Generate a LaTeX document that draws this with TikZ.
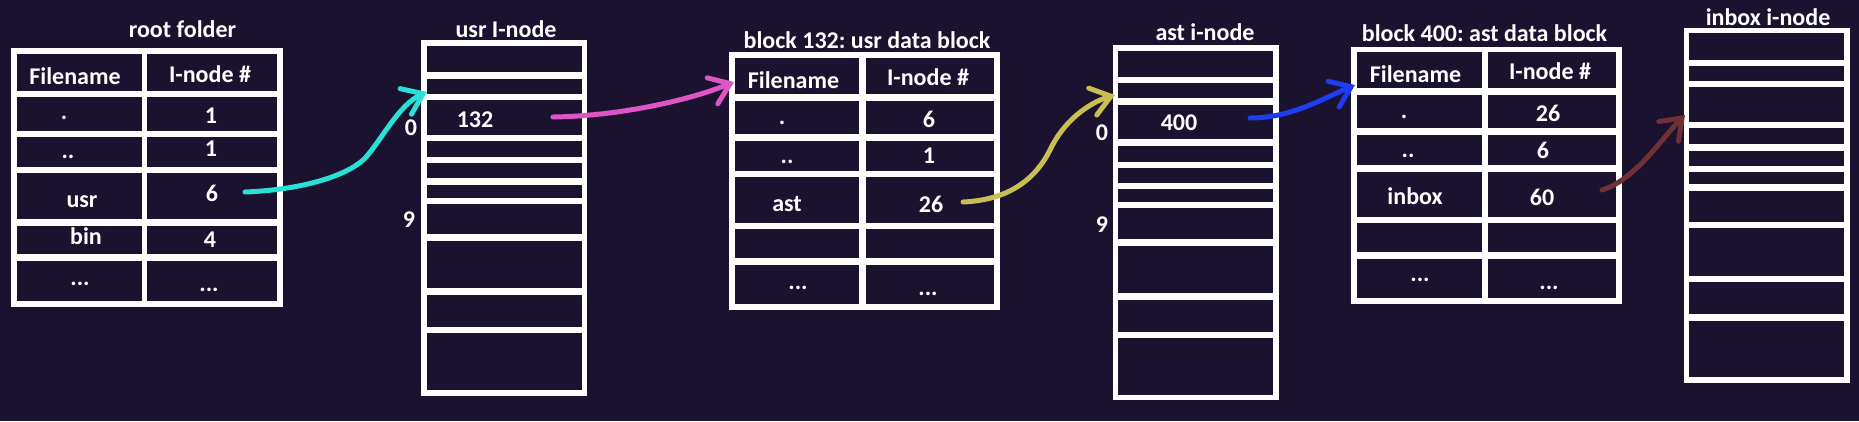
\documentclass[tikz,border=0pt]{standalone}
\usepackage{fontspec}
\setmainfont{Carlito}
\usetikzlibrary{arrows.meta}
\definecolor{bg}{HTML}{1B1230}
\definecolor{cyanA}{HTML}{28E0D6}
\definecolor{pinkA}{HTML}{E055C6}
\definecolor{oliveA}{HTML}{C8BE52}
\definecolor{blueA}{HTML}{1E3CF0}
\definecolor{brownA}{HTML}{6E3236}
\newcommand\boxnode[6]{\node[#2, minimum width={(#5)-(#3)}, minimum height={(#6)-(#4)}] (#1) at ({((#3)+(#5))/2},{((#4)+(#6))/2}) {};}
\frenchspacing
\begin{document}
\begin{tikzpicture}[x=1pt,y=-1pt,
  frame/.style={fill=white, draw=none, inner sep=0pt, outer sep=0pt, rectangle},
  cellbox/.style={fill=bg, draw=none, inner sep=0pt, outer sep=0pt, rectangle},
  lbl/.style={text=white, font=\fontsize{24}{24}\selectfont\bfseries\frenchspacing, inner sep=0pt, anchor=base},
  conn/.style={line width=5pt, line cap=round, line join=round, -{Straight Barb[length=19pt,width=28pt,line cap=round]}},
]
\fill[bg] (0,0) rectangle (1859,421);
\useasboundingbox (0,0) rectangle (1859,421);

% ---------- root folder ----------
\node[lbl] (rt-title) at (182.5,37) {root folder};
\boxnode{rt}{frame}{11}{48}{283}{307}
\foreach \a/\b [count=\i from 0] in {54/91,97/131,137/167,173/219,226/254,261/301}{
  \boxnode{rt-l\i}{cellbox}{17}{\a}{142}{\b}
  \boxnode{rt-r\i}{cellbox}{147}{\a}{277}{\b}
}
\node[lbl] (rt-fn) at (75,84) {Filename};
\node[lbl] (rt-in) at (210,82) {I-node \#};
\node[lbl] (rt-n1) at (64,119) {.};
\node[lbl] (rt-v1) at (211,123) {1};
\node[lbl] (rt-n2) at (68,158) {..};
\node[lbl] (rt-v2) at (211,156) {1};
\node[lbl] (rt-n3) at (82,207) {usr};
\node[lbl] (rt-v3) at (212,201) {6};
\node[lbl] (rt-n4) at (86,244) {bin};
\node[lbl] (rt-v4) at (210,247) {4};
\node[lbl] (rt-n5) at (80,285) {...};
\node[lbl] (rt-v5) at (209,291) {...};

% ---------- usr I-node ----------
\node[lbl] (ui-title) at (506,37) {usr I-node};
\boxnode{ui}{frame}{421}{40}{587}{396}
\foreach \a/\b [count=\i] in {46/72,79/94,100/135,141/157,163/178,185/198,204/234,241/288,295/327,333/390}{
  \boxnode{ui-\i}{cellbox}{427}{\a}{582}{\b}
}
\node[lbl] (ui-ptr) at (475,127) {132};
\node[lbl] (ui-0) at (411,135) {0};
\node[lbl] (ui-9) at (409,227) {9};

% ---------- block 132 ----------
\node[lbl] (b1-title) at (867,48) {block 132: usr data block};
\boxnode{b1}{frame}{729}{52}{1000}{310}
\foreach \a/\b [count=\i from 0] in {58/94,101/134,141/171,177/223,229/258,265/304}{
  \boxnode{b1-l\i}{cellbox}{735}{\a}{859}{\b}
  \boxnode{b1-r\i}{cellbox}{866}{\a}{994}{\b}
}
\node[lbl] (b1-fn) at (793.5,88) {Filename};
\node[lbl] (b1-in) at (928,85) {I-node \#};
\node[lbl] (b1-n1) at (782,124) {.};
\node[lbl] (b1-v1) at (929,127) {6};
\node[lbl] (b1-n2) at (787,163) {..};
\node[lbl] (b1-v2) at (929,163) {1};
\node[lbl] (b1-n3) at (787,211) {ast};
\node[lbl] (b1-v3) at (931,212) {26};
\node[lbl] (b1-n5) at (798,289) {...};
\node[lbl] (b1-v5) at (928,295) {...};

% ---------- ast i-node ----------
\node[lbl] (ai-title) at (1205,40) {ast i-node};
\boxnode{ai}{frame}{1113}{45}{1279}{400}
\foreach \a/\b [count=\i] in {51/77,83/98,105/139,146/162,168/183,189/202,208/239,246/293,300/332,338/395}{
  \boxnode{ai-\i}{cellbox}{1118}{\a}{1273}{\b}
}
\node[lbl] (ai-ptr) at (1179,130) {400};
\node[lbl] (ai-0) at (1102,140) {0};
\node[lbl] (ai-9) at (1102,232) {9};

% ---------- block 400 ----------
\node[lbl] (b4-title) at (1484.5,41) {block 400: ast data block};
\boxnode{b4}{frame}{1351}{47}{1622}{304}
\foreach \a/\b [count=\i from 0] in {52/88,95/128,135/165,172/217,223/252,259/298}{
  \boxnode{b4-l\i}{cellbox}{1357}{\a}{1482}{\b}
  \boxnode{b4-r\i}{cellbox}{1488}{\a}{1616}{\b}
}
\node[lbl] (b4-fn) at (1415.5,82) {Filename};
\node[lbl] (b4-in) at (1550,79) {I-node \#};
\node[lbl] (b4-n1) at (1404,118) {.};
\node[lbl] (b4-v1) at (1548,121) {26};
\node[lbl] (b4-n2) at (1408,157) {..};
\node[lbl] (b4-v2) at (1543,158) {6};
\node[lbl] (b4-n3) at (1415,204) {inbox};
\node[lbl] (b4-v3) at (1542,205) {60};
\node[lbl] (b4-n5) at (1420,281) {...};
\node[lbl] (b4-v5) at (1549,289) {...};

% ---------- inbox i-node ----------
\node[lbl] (ii-title) at (1768,25) {inbox i-node};
\boxnode{ii}{frame}{1684}{28}{1850}{383}
\foreach \a/\b [count=\i] in {33/60,66/81,87/122,128/144,151/166,172/184,191/222,228/276,282/314,321/377}{
  \boxnode{ii-\i}{cellbox}{1689}{\a}{1844}{\b}
}

% ---------- connectors ----------
\coordinate (c1s) at (245,192);
\coordinate (c1t) at (427,92);
\draw[conn, cyanA] (c1s) .. controls (300,190) and (350,176) .. (367,156) .. controls (383,137) and (400,104) .. (c1t);
\coordinate (c2s) at (553,117);
\coordinate (c2t) at (734,82);
\draw[conn, pinkA] (c2s) .. controls (620,116) and (690,100) .. (c2t);
\coordinate (c3s) at (963,202);
\coordinate (c3t) at (1115,95);
\draw[conn, oliveA] (c3s) .. controls (1010,200) and (1036,178) .. (1050,150) .. controls (1063,122) and (1088,103) .. (c3t);
\coordinate (c4s) at (1250,118);
\coordinate (c4t) at (1355,85);
\draw[conn, blueA] (c4s) .. controls (1290,118) and (1320,100) .. (c4t);
\coordinate (c5s) at (1602,190);
\coordinate (c5t) at (1685,115);
\draw[conn, brownA] (c5s) .. controls (1635,180) and (1662,138) .. (c5t);
\end{tikzpicture}
\end{document}
